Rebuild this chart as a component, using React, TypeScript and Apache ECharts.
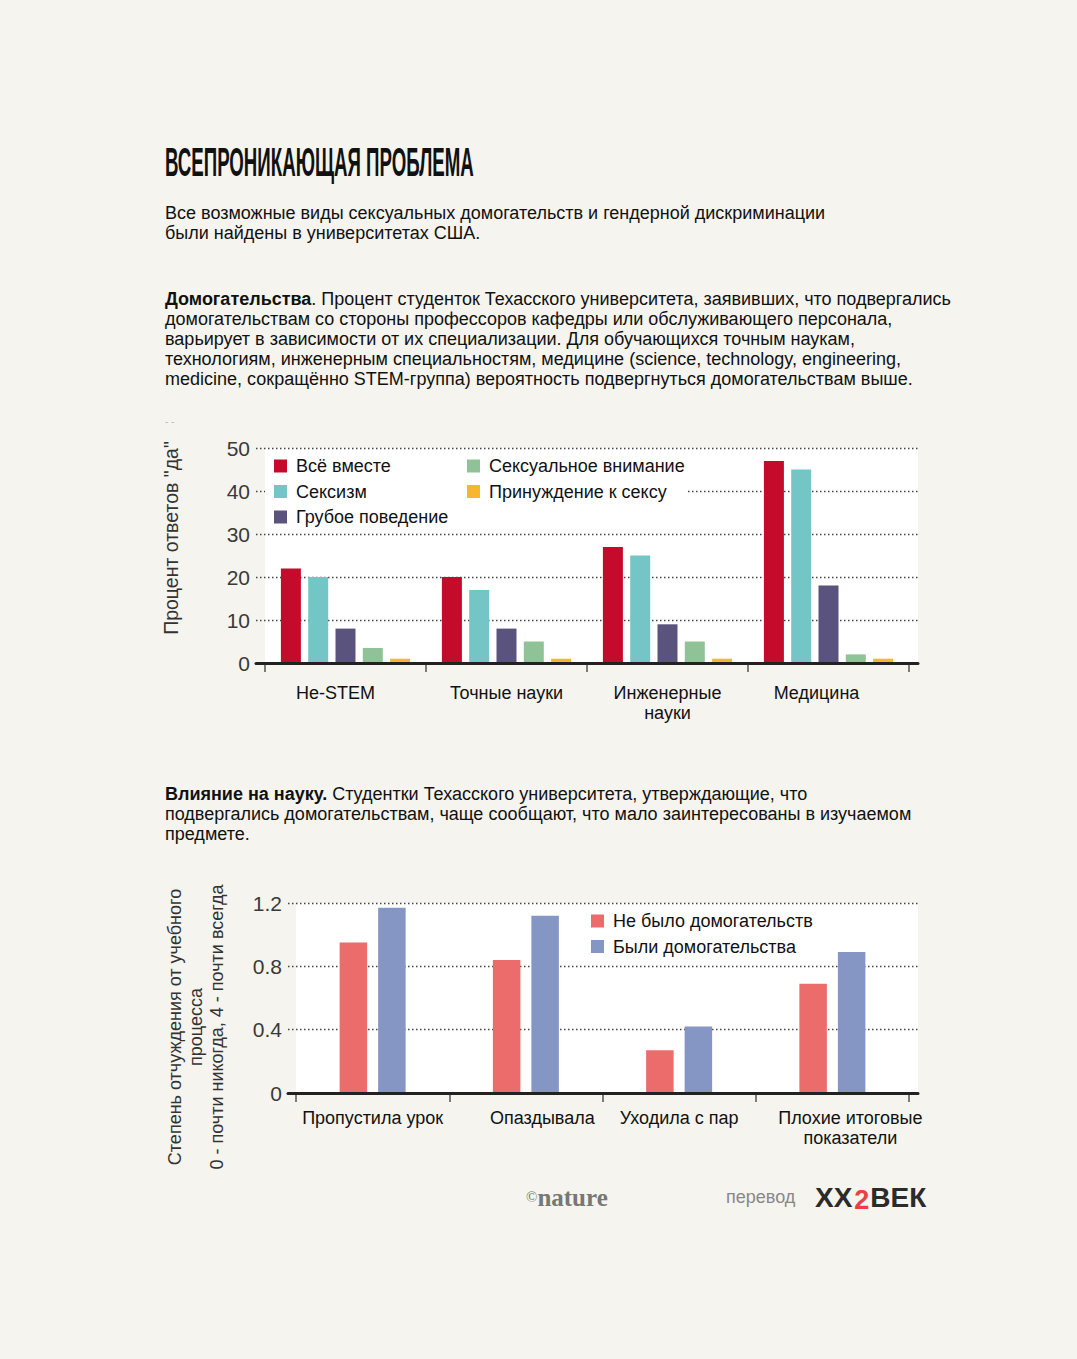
import React, { useEffect, useRef } from "react";
import * as echarts from "echarts";

// ---------- Chart 1: harassment by specialisation ----------
const categories1 = ["Не-STEM", "Точные науки", "Инженерные\nнауки", "Медицина"];
const allTogether = [22, 20, 27, 47];
const sexism = [20, 17, 25, 45];
const rudeBehaviour = [8, 8, 9, 18];
const sexualAttention = [3.5, 5, 5, 2];
const coercion = [1, 1, 1, 1];
const yTicks1 = { min: 0, max: 50, interval: 10 };

// ---------- Chart 2: influence on science ----------
const categories2 = ["Пропустила урок", "Опаздывала", "Уходила с пар", "Плохие итоговые\nпоказатели"];
const noHarassment = [0.95, 0.84, 0.27, 0.69];
const harassed = [1.17, 1.12, 0.42, 0.89];
const yTicks2 = { min: 0, max: 1.2, interval: 0.4 };

const FONT = "'Liberation Sans', Arial, sans-serif";
const BG = "#F5F4EE";

// label nudges (px padding) to mimic original hand placement
const labelPad1: Record<string, number[]> = {
  "Не-STEM": [0, 20, 0, 0],
  "Медицина": [0, 24, 0, 0],
};
const labelPad2: Record<string, number[]> = {
  "Опаздывала": [0, 0, 0, 33],
  "Плохие итоговые\nпоказатели": [0, 0, 0, 36],
};

export default function App() {
  const ref = useRef<HTMLDivElement>(null);
  useEffect(() => {
    if (!ref.current) return;
    const chart = echarts.init(ref.current, null, { renderer: "svg", width: 1077, height: 1359 });

    const dotted = { show: true, lineStyle: { type: [1.5, 2.5] as any, color: "#444", width: 1.3 } };
    const yLabel = { margin: 6, fontSize: 21, color: "#3a3a3a", fontFamily: FONT };

    const catItems = (cats: string[], pads: Record<string, number[]>) =>
      cats.map((c) => (pads[c] ? { value: c, textStyle: { padding: pads[c] } } : c));

    const legendText = { fontSize: 18, color: "#111", fontFamily: FONT, padding: [0, 0, 0, 4] };
    const legendCommon = {
      orient: "vertical",
      itemWidth: 13,
      itemHeight: 13,
      itemGap: 7.5,
      icon: "rect",
      selectedMode: false,
      textStyle: legendText,
    };

    const mkBar1 = (name: string, data: number[], color: string) => ({
      name,
      type: "bar",
      xAxisIndex: 1,
      yAxisIndex: 1,
      data,
      barWidth: 20,
      barGap: "36.5%",
      itemStyle: { color },
    });
    const mkBar2 = (name: string, data: number[], color: string) => ({
      name,
      type: "bar",
      xAxisIndex: 4,
      yAxisIndex: 4,
      data,
      barWidth: 27.5,
      barGap: "40%",
      itemStyle: { color },
    });

    const option: any = {
      animation: false,
      backgroundColor: BG,
      textStyle: { fontFamily: FONT },
      grid: [
        { left: 256, top: 448, width: 662, height: 215 },
        { left: 265, top: 448, width: 644, height: 215 },
        { left: 265, top: 448, width: 653, height: 215, show: true, backgroundColor: "#fff", borderWidth: 0 },
        { left: 288, top: 903, width: 630, height: 190 },
        { left: 296, top: 903, width: 613, height: 190 },
        { left: 296, top: 903, width: 622, height: 190, show: true, backgroundColor: "#fff", borderWidth: 0 },
      ],
      xAxis: [
        {
          gridIndex: 0, type: "value", min: 0, max: 1, z: 5,
          axisLine: { show: true, lineStyle: { color: "#222", width: 3 } },
          axisTick: { show: false }, axisLabel: { show: false }, splitLine: { show: false },
        },
        {
          gridIndex: 1, type: "category", data: catItems(categories1, labelPad1),
          axisLine: { show: false },
          axisTick: { show: true, length: 9, lineStyle: { color: "#555", width: 1.5 } },
          axisLabel: { margin: 20, fontSize: 18, lineHeight: 20, color: "#111", fontFamily: FONT, interval: 0 },
        },
        { gridIndex: 2, type: "value", show: false },
        {
          gridIndex: 3, type: "value", min: 0, max: 1, z: 5,
          axisLine: { show: true, lineStyle: { color: "#222", width: 3 } },
          axisTick: { show: false }, axisLabel: { show: false }, splitLine: { show: false },
        },
        {
          gridIndex: 4, type: "category", data: catItems(categories2, labelPad2),
          axisLine: { show: false },
          axisTick: { show: true, length: 9, lineStyle: { color: "#555", width: 1.5 } },
          axisLabel: { margin: 15, fontSize: 18, lineHeight: 20, color: "#111", fontFamily: FONT, interval: 0 },
        },
        { gridIndex: 5, type: "value", show: false },
      ],
      yAxis: [
        {
          gridIndex: 0, type: "value", ...yTicks1,
          axisLine: { show: false }, axisTick: { show: false },
          axisLabel: yLabel, splitLine: dotted,
        },
        { gridIndex: 1, type: "value", ...yTicks1, show: false },
        { gridIndex: 2, type: "value", show: false },
        {
          gridIndex: 3, type: "value", ...yTicks2,
          axisLine: { show: false }, axisTick: { show: false },
          axisLabel: yLabel, splitLine: dotted,
        },
        { gridIndex: 4, type: "value", ...yTicks2, show: false },
        { gridIndex: 5, type: "value", show: false },
      ],
      legend: [
        {
          ...legendCommon,
          data: ["Всё вместе", "Сексизм", "Грубое поведение"],
          left: 265, top: 452,
          padding: [5, 20, 5, 9],
          backgroundColor: "#fff",
        },
        {
          ...legendCommon,
          data: ["Сексуальное внимание", "Принуждение к сексу"],
          left: 467, top: 452,
          padding: [5, 2, 5, 0],
          backgroundColor: "#fff",
        },
        {
          ...legendCommon,
          data: ["Не было домогательств", "Были домогательства"],
          left: 591, top: 912,
          padding: 0,
        },
      ],
      series: [
        mkBar1("Всё вместе", allTogether, "#C50B2B"),
        mkBar1("Сексизм", sexism, "#73C6C5"),
        mkBar1("Грубое поведение", rudeBehaviour, "#59537E"),
        mkBar1("Сексуальное внимание", sexualAttention, "#8FC296"),
        mkBar1("Принуждение к сексу", coercion, "#F8B62E"),
        mkBar2("Не было домогательств", noHarassment, "#EC6B6B"),
        mkBar2("Были домогательства", harassed, "#8596C4"),
      ],
      graphic: [
        {
          type: "text", x: 165, y: 163, scaleX: 0.467,
          style: {
            text: "ВСЕПРОНИКАЮЩАЯ ПРОБЛЕМА",
            font: `bold 40px ${FONT}`, fill: "#111", verticalAlign: "middle",
          },
        },
        {
          type: "text", x: 165, y: 203,
          style: {
            text: "Все возможные виды сексуальных домогательств и гендерной дискриминации\nбыли найдены в университетах США.",
            font: `18px ${FONT}`, lineHeight: 20, fill: "#111", verticalAlign: "top",
          },
        },
        {
          type: "text", x: 165, y: 289,
          style: {
            text:
              "{b|Домогательства}{n|. Процент студенток Техасского университета, заявивших, что подвергались}\n" +
              "{n|домогательствам со стороны профессоров кафедры или обслуживающего персонала,}\n" +
              "{n|варьирует в зависимости от их специализации. Для обучающихся точным наукам,}\n" +
              "{n|технологиям, инженерным специальностям, медицине (science, technology, engineering,}\n" +
              "{n|medicine, сокращённо STEM-группа) вероятность подвергнуться домогательствам выше.}",
            verticalAlign: "top",
            rich: {
              b: { fontFamily: FONT, fontSize: 18, fontWeight: "bold", lineHeight: 20, fill: "#111" },
              n: { fontFamily: FONT, fontSize: 18, lineHeight: 20, fill: "#111" },
            },
          },
        },
        {
          type: "text", x: 165, y: 416,
          style: { text: "- -", font: `10px ${FONT}`, fill: "#bbb", verticalAlign: "top" },
        },
        {
          type: "text", x: 171, y: 538, rotation: Math.PI / 2,
          style: {
            text: 'Процент ответов "да"', font: `19.5px ${FONT}`, fill: "#333",
            align: "center", verticalAlign: "middle",
          },
        },
        {
          type: "text", x: 165, y: 784,
          style: {
            text:
              "{b|Влияние на науку.}{n| Студентки Техасского университета, утверждающие, что}\n" +
              "{n|подвергались домогательствам, чаще сообщают, что мало заинтересованы в изучаемом}\n" +
              "{n|предмете.}",
            verticalAlign: "top",
            rich: {
              b: { fontFamily: FONT, fontSize: 18, fontWeight: "bold", lineHeight: 20, fill: "#111" },
              n: { fontFamily: FONT, fontSize: 18, lineHeight: 20, fill: "#111" },
            },
          },
        },
        {
          type: "text", x: 196, y: 1027, rotation: Math.PI / 2,
          style: {
            text: "Степень отчуждения от учебного\nпроцесса\n0 - почти никогда, 4 - почти всегда",
            font: `18px ${FONT}`, lineHeight: 21, fill: "#333",
            align: "center", verticalAlign: "middle",
          },
        },
        {
          type: "text", x: 526, y: 1197,
          style: {
            text: "{c|©}{n|nature}",
            verticalAlign: "middle",
            rich: {
              c: { fontFamily: "'Liberation Serif', serif", fontSize: 15, fill: "#777", verticalAlign: "middle" },
              n: { fontFamily: "'Liberation Serif', serif", fontSize: 25, fontWeight: "bold", fill: "#777", verticalAlign: "middle" },
            },
          },
        },
        {
          type: "text", x: 726, y: 1197,
          style: { text: "перевод", font: `18px ${FONT}`, fill: "#888", verticalAlign: "middle" },
        },
        {
          type: "text", x: 815, y: 1197,
          style: {
            text: "{a|XX}{r|2}{a|ВЕК}",
            verticalAlign: "middle",
            rich: {
              a: { fontFamily: FONT, fontSize: 28, fontWeight: "bold", fill: "#2b2b2b" },
              r: { fontFamily: FONT, fontSize: 27, fontWeight: "bold", fill: "#E8413F", padding: [6, 1, 0, 2] },
            },
          },
        },
      ],
    };

    chart.setOption(option);
    return () => chart.dispose();
  }, []);

  return (
    <div
      ref={ref}
      style={{ position: "absolute", left: 0, top: 0, width: 1077, height: 1359, background: BG }}
    />
  );
}
